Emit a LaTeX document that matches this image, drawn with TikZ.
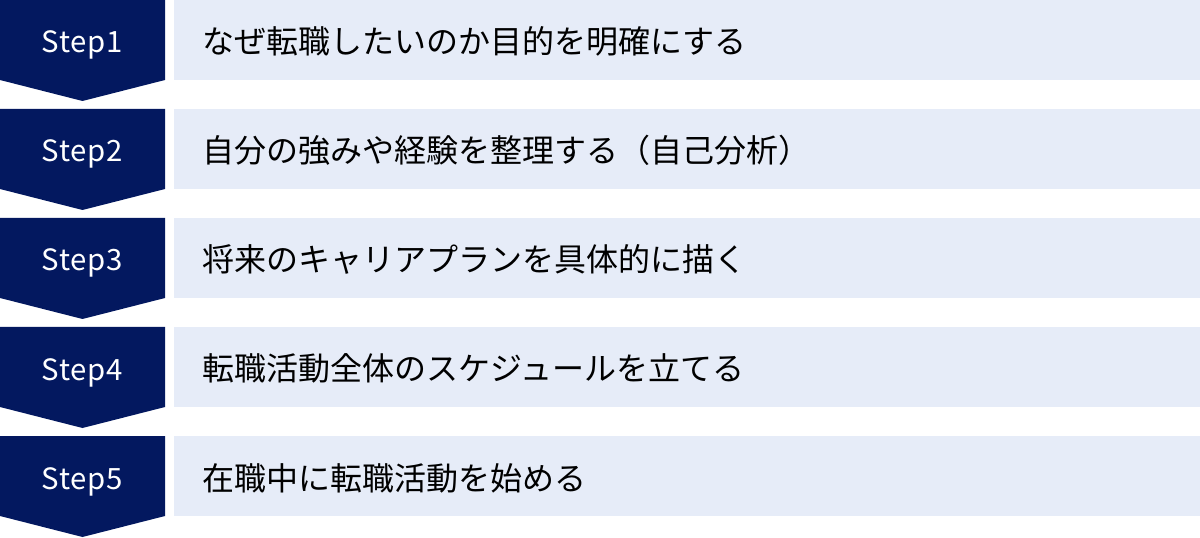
\documentclass[tikz,border=0pt]{standalone}
\usepackage{fontspec}
\setmainfont{Noto Sans CJK JP}
\newfontfamily\stepfont[LetterSpace=3]{Noto Sans CJK JP}
\definecolor{navy}{HTML}{03185F}
\definecolor{paleblue}{HTML}{E6ECF8}
\begin{document}
\begin{tikzpicture}[x=0.75pt, y=-0.75pt,
        steplabel/.style={text=white, inner sep=0pt, anchor=base, font=\stepfont\fontsize{22pt}{26pt}\selectfont},
        stepcaption/.style={text=black, inner sep=0pt, anchor=base west, font=\fontsize{24pt}{29pt}\selectfont}]
        \useasboundingbox (0, 0) rectangle (1200, 538);

        % step 1
        \fill[navy] (0, 0) -- (165, 0) -- (165, 80) -- (82.5, 101) -- (0, 80) -- cycle;
        \fill[paleblue] (174, 0) rectangle (1200, 80);
        \node[steplabel] (s1) at (82.5, 53) {Step1};
        \node[stepcaption] (c1) at (202, 54) {なぜ転職したいのか目的を明確にする};

        % step 2
        \fill[navy] (0, 109) -- (165, 109) -- (165, 189) -- (82.5, 210) -- (0, 189) -- cycle;
        \fill[paleblue] (174, 109) rectangle (1200, 189);
        \node[steplabel] (s2) at (82.5, 162) {Step2};
        \node[stepcaption] (c2) at (202, 163) {自分の強みや経験を整理する（自己分析）};

        % step 3
        \fill[navy] (0, 218) -- (165, 218) -- (165, 298) -- (82.5, 319) -- (0, 298) -- cycle;
        \fill[paleblue] (174, 218) rectangle (1200, 298);
        \node[steplabel] (s3) at (82.5, 271) {Step3};
        \node[stepcaption] (c3) at (202, 272) {将来のキャリアプランを具体的に描く};

        % step 4
        \fill[navy] (0, 327) -- (165, 327) -- (165, 407) -- (82.5, 428) -- (0, 407) -- cycle;
        \fill[paleblue] (174, 327) rectangle (1200, 407);
        \node[steplabel] (s4) at (82.5, 380) {Step4};
        \node[stepcaption] (c4) at (202, 381) {転職活動全体のスケジュールを立てる};

        % step 5
        \fill[navy] (0, 436) -- (165, 436) -- (165, 516) -- (82.5, 537) -- (0, 516) -- cycle;
        \fill[paleblue] (174, 436) rectangle (1200, 516);
        \node[steplabel] (s5) at (82.5, 489) {Step5};
        \node[stepcaption] (c5) at (202, 490) {在職中に転職活動を始める};
    \end{tikzpicture}
\end{document}
